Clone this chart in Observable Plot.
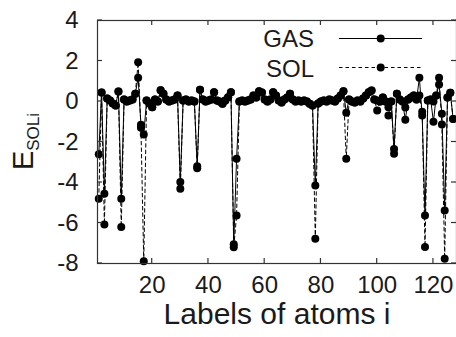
<!DOCTYPE html>
<html>
<head>
<meta charset="utf-8">
<script src="https://cdn.jsdelivr.net/npm/d3@7"></script>
<script src="https://cdn.jsdelivr.net/npm/@observablehq/plot@0.6"></script>
<style>
  html, body { margin: 0; padding: 0; background: #fff; }
  #chart { width: 456px; height: 337px; overflow: hidden; }
</style>
</head>
<body>
<div id="chart"></div>
<script>
// ---- data ----
const atoms = d3.range(1, 128);
const gas = [
  -2.6, 0.45, -4.56, 0.15, 0.05, -0.1, -0.2, 0.5, -4.8, 0.1,
  0.0, 0.05, 0.1, 0.38, 1.17, -1.15, -1.63, 0.05, -0.1, -0.28,
  0.1, 0.0, 0.55, 0.38, 0.1, 0.0, 0.05, 0.1, 0.3, -3.98,
  0.05, 0.1, 0.0, 0.05, 0.0, -3.2, 0.58, 0.1, 0.0, 0.05,
  0.1, 0.46, 0.05, 0.0, -0.11, 0.05, 0.21, 0.46, -7.05, -2.83,
  0.0, 0.05, 0.0, 0.05, 0.1, 0.3, 0.2, 0.51, 0.45, 0.1,
  0.0, 0.1, 0.46, 0.3, 0.05, -0.05, 0.1, 0.2, 0.38, 0.1,
  0.0, 0.05, 0.0, 0.05, 0.0, -0.11, -0.2, -4.15, -0.1, 0.0,
  0.05, 0.0, 0.1, 0.05, 0.0, 0.15, 0.3, 0.51, -0.55, 0.1,
  0.0, -0.05, 0.05, 0.0, 0.15, 0.3, 0.46, 0.54, 0.1, 0.05,
  0.0, 0.2, 0.0, -0.28, 0.0, -2.34, 0.38, 0.1, 0.0, -0.9,
  0.1, 0.2, 0.3, 0.1, 1.17, -0.69, -5.63, 0.05, 0.1, -1.0,
  0.3, 0.84, -0.6, -5.38, 0.2, 0.43, -0.86
];
const sol = [
  -4.8, 0.45, -6.07, 0.15, 0.05, -0.1, -0.2, 0.5, -6.2, 0.1,
  0.0, 0.05, 0.1, 0.38, 1.94, -1.3, -7.89, 0.05, -0.1, -0.28,
  0.1, 0.0, 0.55, 0.38, 0.1, 0.0, 0.05, 0.1, 0.3, -4.31,
  0.05, 0.1, 0.0, 0.05, 0.0, -3.3, 0.58, 0.1, 0.0, 0.05,
  0.1, 0.46, 0.05, 0.0, -0.11, 0.05, 0.21, 0.46, -7.2, -5.63,
  0.0, 0.05, 0.0, 0.05, 0.1, 0.3, 0.2, 0.51, 0.45, 0.1,
  0.0, 0.1, 0.46, 0.3, 0.05, -0.05, 0.1, 0.2, 0.38, 0.1,
  0.0, 0.05, 0.0, 0.05, 0.0, -0.11, -0.2, -6.78, -0.1, 0.0,
  0.05, 0.0, 0.1, 0.05, 0.0, 0.15, 0.3, 0.51, -2.83, 0.1,
  0.0, -0.05, 0.05, 0.0, 0.15, 0.3, 0.46, 0.54, 0.1, -0.44,
  0.0, 0.2, 0.0, -0.69, 0.0, -2.58, 0.38, 0.1, 0.0, -0.3,
  0.1, 0.2, 0.3, 0.1, 0.3, -0.5, -7.19, 0.05, 0.1, 0.0,
  0.3, 1.17, -1.14, -7.77, 0.2, 0.43, -0.86
];
const xTicks = [20, 40, 60, 80, 100, 120];
const yTicks = [-8, -6, -4, -2, 0, 2, 4];
const seriesNames = ["GAS", "SOL"];
const xLabel = "Labels of atoms i";

const gasData = atoms.map((a, i) => ({atom: a, e: gas[i]}));
const solData = atoms.map((a, i) => ({atom: a, e: sol[i]}));

const FONT = "'Liberation Sans', Arial, Helvetica, sans-serif";
const INK = "#1a1a1a";
const R = 4;

const chart = Plot.plot({
  width: 456,
  height: 337,
  marginLeft: 97,
  marginRight: 0,
  marginTop: 20,
  marginBottom: 74,
  style: {fontFamily: FONT, background: "#fff", color: INK},
  x: {domain: [0.55, 128.2], axis: null},
  y: {domain: [-8, 4], axis: null},
  marks: [
    Plot.line(solData, {x: "atom", y: "e", stroke: "#000", strokeWidth: 1, strokeDasharray: "3.5,3"}),
    Plot.line(gasData, {x: "atom", y: "e", stroke: "#000", strokeWidth: 1}),
    Plot.dot(solData, {x: "atom", y: "e", r: R, fill: "#000", stroke: "none"}),
    Plot.dot(gasData, {x: "atom", y: "e", r: R, fill: "#000", stroke: "none"}),
    Plot.frame({stroke: "#333", strokeWidth: 1.2}),
    Plot.text(xTicks, {x: d => d, frameAnchor: "bottom", dy: 29, fontSize: 24, fill: INK}),
    Plot.text(yTicks, {y: d => d, frameAnchor: "left", dx: -19, textAnchor: "end", fontSize: 24, fill: INK}),
    Plot.text([xLabel], {frameAnchor: "bottom", dy: 60, fontSize: 30, fill: INK})
  ]
});

document.getElementById("chart").appendChild(chart);

// inward ticks on all four sides (gnuplot style), positioned by Plot's scales
const svg = d3.select(chart);
const sx = chart.scale("x"), sy = chart.scale("y");
const [fx0, fx1] = sx.range;
const [fy0, fy1] = sy.range; // bottom, top
const tg = svg.append("g").attr("stroke", "#333").attr("stroke-width", 1.2);
const TL = 5;
for (const t of xTicks) {
  const px = sx.apply(t);
  tg.append("line").attr("x1", px).attr("x2", px).attr("y1", fy0).attr("y2", fy0 - TL);
  tg.append("line").attr("x1", px).attr("x2", px).attr("y1", fy1).attr("y2", fy1 + TL);
}
for (const t of yTicks) {
  const py = sy.apply(t);
  tg.append("line").attr("x1", fx0).attr("x2", fx0 + TL).attr("y1", py).attr("y2", py);
  tg.append("line").attr("x1", fx1).attr("x2", fx1 - TL).attr("y1", py).attr("y2", py);
}

// y-axis label E_SOLi
const yl = svg.append("text")
  .attr("transform", `translate(33,${(fy0 + fy1) / 2}) rotate(-90)`)
  .attr("text-anchor", "middle")
  .attr("font-family", FONT)
  .attr("fill", INK);
yl.append("tspan").attr("font-size", 29).text("E");
yl.append("tspan").attr("font-size", 17).attr("dy", 6).text("SOLi");

// legend (top right, gnuplot style)
const legend = svg.append("g").attr("font-family", FONT);
const rows = [
  {name: seriesNames[0], dash: null, ly: 38.5, ty: 47},
  {name: seriesNames[1], dash: "3.5,3", ly: 67.5, ty: 77}
];
for (const r of rows) {
  legend.append("text").attr("x", 314).attr("y", r.ty).attr("text-anchor", "end")
    .attr("font-size", 24).attr("fill", INK).text(r.name);
  legend.append("line").attr("x1", 339).attr("x2", 422).attr("y1", r.ly).attr("y2", r.ly)
    .attr("stroke", "#000").attr("stroke-width", 1).attr("stroke-dasharray", r.dash);
  legend.append("circle").attr("cx", 380.7).attr("cy", r.ly).attr("r", R).attr("fill", "#000");
}
</script>
</body>
</html>
